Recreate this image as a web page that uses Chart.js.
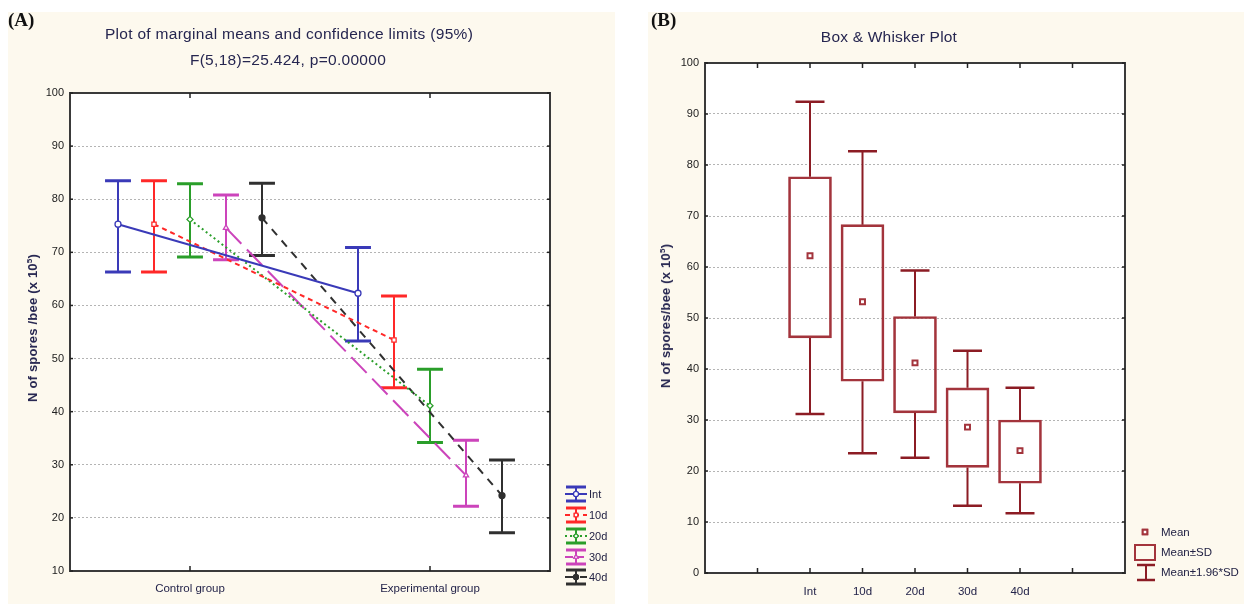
<!DOCTYPE html>
<html><head><meta charset="utf-8">
<script src="https://cdn.jsdelivr.net/npm/chart.js@4.4.1/dist/chart.umd.min.js"></script>
<style>
html,body{margin:0;padding:0;background:#fff;width:1244px;height:613px;overflow:hidden;font-family:"Liberation Sans",Arial,sans-serif;}
.panel{position:absolute;background:#fdf9ee;}
#pa{left:8px;top:12px;width:607px;height:592px;}
#pb{left:648px;top:12px;width:596px;height:592px;}
canvas{position:absolute;left:0;top:0;}
.t{position:absolute;white-space:nowrap;color:#262650;line-height:16px;}
.c{transform:translate(-50%,-50%);}
.r{transform:translate(-50%,-50%) rotate(-90deg);}
.lab{position:absolute;font-family:"Liberation Serif","DejaVu Serif",serif;font-weight:bold;font-size:19px;color:#111;line-height:20px;}
sup{font-size:8px;vertical-align:5px;line-height:0;}
</style></head>
<body>
<div class="panel" id="pa"><canvas id="ca" width="607" height="592"></canvas></div>
<div class="panel" id="pb"><canvas id="cb" width="596" height="592"></canvas></div>

<div class="lab" style="left:8px;top:10px;">(A)</div>
<div class="lab" style="left:651px;top:10px;">(B)</div>

<div class="t c" style="left:289px;top:34px;font-size:15.5px;letter-spacing:0.3px;">Plot of marginal means and confidence limits (95%)</div>
<div class="t c" style="left:288px;top:60px;font-size:15.5px;letter-spacing:0.3px;">F(5,18)=25.424, p=0.00000</div>
<div class="t r" style="left:33px;top:328px;font-size:13px;font-weight:bold;letter-spacing:0.2px;">N of spores /bee (x 10<sup>5</sup>)</div>
<div id="legA"></div>

<div class="t c" style="left:889px;top:37px;font-size:15.5px;letter-spacing:0.2px;">Box &amp; Whisker Plot</div>
<div class="t r" style="left:666px;top:316px;font-size:13px;font-weight:bold;letter-spacing:0.2px;">N of spores/bee (x 10<sup>5</sup>)</div>
<div id="legB"></div>

<script>
// ---------- Panel A data ----------
const groupNames  = ['Control group', 'Experimental group'];
const seriesNames = ['Int', '10d', '20d', '30d', '40d'];
const controlMean = [75.3, 75.3, 76.2, 74.6, 76.5];
const controlLow  = [66.3, 66.3, 69.1, 68.6, 69.4];
const controlHigh = [83.5, 83.5, 82.9, 80.8, 83.0];
const expMean     = [62.3, 53.5, 41.1, 28.0, 24.2];
const expLow      = [53.3, 44.5, 34.2, 22.2, 17.2];
const expHigh     = [70.9, 61.8, 48.0, 34.6, 30.9];
const yTicksA     = [10, 20, 30, 40, 50, 60, 70, 80, 90, 100];

// ---------- Panel B data ----------
const boxCats   = ['Int', '10d', '20d', '30d', '40d'];
const boxMean   = [62.2, 53.2, 41.2, 28.6, 24.0];
const boxSdLow  = [46.1, 37.6, 31.4, 20.7, 17.6];
const boxSdHigh = [77.7, 68.3, 50.3, 36.3, 30.0];
const boxCiLow  = [31.2, 23.5, 22.6, 13.2, 11.7];
const boxCiHigh = [92.4, 82.7, 59.3, 43.6, 36.3];
const yTicksB   = [0, 10, 20, 30, 40, 50, 60, 70, 80, 90, 100];
const legendB   = ['Mean', 'Mean\u00b1SD', 'Mean\u00b11.96*SD'];

// ---------- styles ----------
const FONT = '"Liberation Sans", Arial, sans-serif';
const sColor = ['#3a3ab8', '#ff2828', '#2a9e2a', '#cc44bb', '#303030'];
const sDash  = [[], [5, 4], [2, 3], [22, 8], [8, 7]];
const sPoint = ['circle', 'rect', 'rectRot', 'triangle', 'circle'];
const sFill  = ['#ffffff', '#ffffff', '#ffffff', '#ffffff', '#303030'];
const boxLine = '#a3343c', whiskLine = '#8c1c24';

function strokeLine(ctx, x1, y1, x2, y2) { ctx.beginPath(); ctx.moveTo(x1, y1); ctx.lineTo(x2, y2); ctx.stroke(); }

function decorate(chart, xMarks, yMarks) {
  const {ctx, chartArea: a, scales} = chart;
  ctx.save();
  ctx.setLineDash([]);
  ctx.strokeStyle = '#3a3a3a'; ctx.lineWidth = 2;
  ctx.strokeRect(a.left, a.top, a.right - a.left, a.bottom - a.top);
  ctx.strokeStyle = '#222'; ctx.lineWidth = 1.5;
  xMarks.forEach(v => { const p = scales.x.getPixelForValue(v); strokeLine(ctx, p, a.top, p, a.top + 5); strokeLine(ctx, p, a.bottom, p, a.bottom - 5); });
  yMarks.forEach(v => { const p = scales.y.getPixelForValue(v); strokeLine(ctx, a.left, p, a.left + 3, p); strokeLine(ctx, a.right, p, a.right - 3, p); });
  ctx.restore();
}
const whiteArea = { id: 'whiteArea', beforeDraw(chart) { const {ctx, chartArea: a} = chart; ctx.save(); ctx.fillStyle = '#fff'; ctx.fillRect(a.left, a.top, a.right - a.left, a.bottom - a.top); ctx.restore(); } };

function marker(ctx, style, r, x, y, stroke, fill, bw) {
  ctx.save(); ctx.setLineDash([]); ctx.strokeStyle = stroke; ctx.fillStyle = fill; ctx.lineWidth = bw;
  Chart.helpers.drawPoint(ctx, {pointStyle: style, radius: r, borderWidth: bw, rotation: 0}, x, y);
  ctx.fill(); if (bw > 0) ctx.stroke();
  ctx.restore();
}

// ---------- Chart A ----------
const offA = seriesNames.map((_, i) => (i - 2) * 0.15);
const capA = 0.054;
const dsA = [];
seriesNames.forEach((name, i) => {
  const xc = 1 + offA[i], xe = 2 + offA[i];
  dsA.push({ label: name, data: [{x: xc, y: controlMean[i]}, {x: xe, y: expMean[i]}],
    borderColor: sColor[i], borderWidth: 2, borderDash: sDash[i], tension: 0,
    pointStyle: sPoint[i], pointRadius: 3, pointBorderColor: sColor[i], pointBackgroundColor: sFill[i], pointBorderWidth: 1.3, order: 1 });
  dsA.push({ label: name + ' ci', data: [
      {x: xc, y: controlLow[i]}, {x: xc, y: controlHigh[i]}, {x: xc, y: null},
      {x: xe, y: expLow[i]}, {x: xe, y: expHigh[i]} ],
    borderColor: sColor[i], borderWidth: 2, pointRadius: 0, spanGaps: false, order: 2 });
  dsA.push({ label: name + ' caps', data: [
      {x: xc - capA, y: controlHigh[i]}, {x: xc + capA, y: controlHigh[i]}, {x: xc, y: null},
      {x: xc - capA, y: controlLow[i]}, {x: xc + capA, y: controlLow[i]}, {x: xc, y: null},
      {x: xe - capA, y: expHigh[i]}, {x: xe + capA, y: expHigh[i]}, {x: xe, y: null},
      {x: xe - capA, y: expLow[i]}, {x: xe + capA, y: expLow[i]} ],
    borderColor: sColor[i], borderWidth: 3, pointRadius: 0, spanGaps: false, order: 2 });
});

const legendARows = [482, 503, 524, 545, 565];
const decorA = { id: 'decorA', afterDraw(chart) {
  decorate(chart, [1, 2], yTicksA);
  const ctx = chart.ctx, cx = 568;
  seriesNames.forEach((n, i) => {
    const y = legendARows[i];
    ctx.save(); ctx.strokeStyle = sColor[i]; ctx.setLineDash([]);
    ctx.lineWidth = 2; strokeLine(ctx, cx, y - 7, cx, y + 7);
    ctx.lineWidth = 3; strokeLine(ctx, cx - 10, y - 7, cx + 10, y - 7); strokeLine(ctx, cx - 10, y + 7, cx + 10, y + 7);
    ctx.lineWidth = 2; ctx.setLineDash(i === 3 ? [8, 3] : sDash[i]); strokeLine(ctx, cx - 11, y, cx + 11, y);
    ctx.restore();
    marker(ctx, sPoint[i], 2.5, cx, y, sColor[i], sFill[i], 1.2);
  });
}};

new Chart(document.getElementById('ca'), {
  type: 'line',
  data: { datasets: dsA },
  plugins: [whiteArea, decorA],
  options: {
    responsive: false, animation: false, devicePixelRatio: 1,
    layout: { padding: { left: 0, top: 81, right: 65, bottom: 0 } },
    plugins: { legend: { display: false }, tooltip: { enabled: false }, title: { display: false } },
    scales: {
      x: { type: 'linear', min: 0.5, max: 2.5, offset: false,
        afterFit: s => { s.height = 33; },
        afterBuildTicks: s => { s.ticks = [{value: 1}, {value: 2}]; },
        ticks: { callback: v => groupNames[Math.round(v) - 1], color: '#24244a', font: { family: FONT, size: 11.5 }, padding: 11, maxRotation: 0, autoSkip: false },
        grid: { display: false, drawTicks: false }, border: { display: false } },
      y: { type: 'linear', min: 10, max: 100,
        afterFit: s => { s.width = 62; },
        afterBuildTicks: s => { s.ticks = yTicksA.map(v => ({value: v})); },
        ticks: { color: '#222', font: { family: FONT, size: 11 }, padding: 6 },
        grid: { color: '#b4b4b4', lineWidth: 1, drawTicks: false },
        border: { display: false, dash: [2, 2] } }
    }
  }
});

// ---------- Chart B ----------
const posB = boxCats.map((_, i) => i + 2);
const capB = 0.276;
const stemData = [], capData = [];
boxCats.forEach((c, i) => {
  const x = posB[i];
  stemData.push({x, y: boxSdHigh[i]}, {x, y: boxCiHigh[i]}, {x, y: null}, {x, y: boxSdLow[i]}, {x, y: boxCiLow[i]}, {x, y: null});
  capData.push({x: x - capB, y: boxCiHigh[i]}, {x: x + capB, y: boxCiHigh[i]}, {x, y: null},
               {x: x - capB, y: boxCiLow[i]}, {x: x + capB, y: boxCiLow[i]}, {x, y: null});
});
const dsB = [
  { type: 'bar', label: 'Mean\u00b1SD', data: boxCats.map((c, i) => ({x: posB[i], y: [boxSdLow[i], boxSdHigh[i]]})),
    backgroundColor: 'rgba(255,255,255,0)', borderColor: boxLine, borderWidth: 2, borderSkipped: false, barThickness: 43, order: 3 },
  { type: 'line', label: 'whiskers', data: stemData, borderColor: whiskLine, borderWidth: 2, pointRadius: 0, spanGaps: false, order: 2 },
  { type: 'line', label: 'caps', data: capData, borderColor: whiskLine, borderWidth: 2.5, pointRadius: 0, spanGaps: false, order: 2 },
  { type: 'line', label: 'Mean', data: boxCats.map((c, i) => ({x: posB[i], y: boxMean[i]})), showLine: false,
    pointStyle: 'rect', pointRadius: 3.5, pointBorderColor: boxLine, pointBackgroundColor: '#fff', pointBorderWidth: 2, order: 1 }
];
const decorB = { id: 'decorB', afterDraw(chart) {
  decorate(chart, [1, 2, 3, 4, 5, 6, 7], yTicksB);
  const ctx = chart.ctx;
  marker(ctx, 'rect', 3.2, 497, 520, boxLine, '#fff', 2);
  ctx.save(); ctx.setLineDash([]); ctx.strokeStyle = boxLine; ctx.lineWidth = 2;
  ctx.strokeRect(487, 533, 20, 15);
  ctx.strokeStyle = whiskLine; ctx.lineWidth = 2; strokeLine(ctx, 498, 553, 498, 568);
  ctx.lineWidth = 2.5; strokeLine(ctx, 489, 553, 507, 553); strokeLine(ctx, 489, 568, 507, 568);
  ctx.restore();
}};

new Chart(document.getElementById('cb'), {
  type: 'line',
  data: { datasets: dsB },
  plugins: [whiteArea, decorB],
  options: {
    responsive: false, animation: false, devicePixelRatio: 1,
    layout: { padding: { left: 0, top: 51, right: 119, bottom: 0 } },
    plugins: { legend: { display: false }, tooltip: { enabled: false }, title: { display: false } },
    scales: {
      x: { type: 'linear', min: 0, max: 8, offset: false,
        afterFit: s => { s.height = 31; },
        afterBuildTicks: s => { s.ticks = posB.map(v => ({value: v})); },
        ticks: { callback: v => boxCats[Math.round(v) - 2], color: '#24244a', font: { family: FONT, size: 11.5 }, padding: 12, maxRotation: 0, autoSkip: false },
        grid: { display: false, drawTicks: false, offset: false }, border: { display: false } },
      y: { type: 'linear', min: 0, max: 100,
        afterFit: s => { s.width = 57; },
        afterBuildTicks: s => { s.ticks = yTicksB.map(v => ({value: v})); },
        ticks: { color: '#222', font: { family: FONT, size: 11 }, padding: 6 },
        grid: { color: '#b4b4b4', lineWidth: 1, drawTicks: false },
        border: { display: false, dash: [2, 2] } }
    }
  }
});

// ---------- HTML legend texts ----------
const legA = document.getElementById('legA');
seriesNames.forEach((n, i) => {
  const d = document.createElement('div'); d.className = 't'; d.textContent = n;
  d.style.cssText = 'left:589px;top:' + (legendARows[i] + 12 - 8) + 'px;font-size:11px;color:#222244;';
  legA.appendChild(d);
});
const legBRows = [532, 552, 572];
const legB = document.getElementById('legB');
legendB.forEach((n, i) => {
  const d = document.createElement('div'); d.className = 't'; d.textContent = n;
  d.style.cssText = 'left:1161px;top:' + (legBRows[i] - 8) + 'px;font-size:11.5px;color:#222244;';
  legB.appendChild(d);
});
</script>
</body></html>
